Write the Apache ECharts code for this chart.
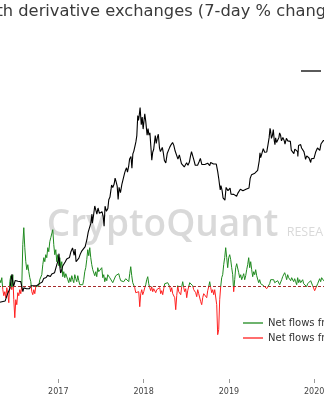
<!DOCTYPE html>
<html><head><meta charset="utf-8">
<script src="https://cdn.jsdelivr.net/npm/echarts@6/dist/echarts.min.js"></script>
<style>html,body{margin:0;padding:0;background:#fff;overflow:hidden;width:324px;height:400px;position:relative}
#c{position:absolute;left:-27px;top:0;width:427px;height:400px}</style>
</head><body><div id="c"></div>
<script>
// ---- data ----
const yearTicks = [2016, 2017, 2018, 2019, 2020, 2021];

const priceDates = [
'2016-04-20','2016-04-27','2016-05-04','2016-05-11','2016-05-18','2016-05-25','2016-05-29','2016-06-02','2016-06-08','2016-06-12','2016-06-16','2016-06-19','2016-06-22','2016-06-26','2016-06-30','2016-07-06','2016-07-12','2016-07-18','2016-07-24','2016-07-30','2016-08-02','2016-08-06','2016-08-12','2016-08-18','2016-08-24','2016-08-30','2016-09-06','2016-09-12','2016-09-18','2016-09-24','2016-09-30','2016-10-06','2016-10-12','2016-10-18','2016-10-24','2016-10-30','2016-11-04','2016-11-10','2016-11-16','2016-11-22','2016-11-28','2016-12-04','2016-12-10','2016-12-16','2016-12-22','2016-12-27',
'2017-01-01','2017-01-04','2017-01-07','2017-01-11','2017-01-15','2017-01-20','2017-01-26','2017-01-31','2017-02-06','2017-02-12','2017-02-18','2017-02-24','2017-03-03','2017-03-10','2017-03-14','2017-03-18','2017-03-24','2017-03-30','2017-04-05','2017-04-12','2017-04-18','2017-04-26','2017-05-03','2017-05-09','2017-05-13','2017-05-20','2017-05-25','2017-05-27','2017-06-01','2017-06-06','2017-06-11','2017-06-15','2017-06-20','2017-06-26','2017-07-01','2017-07-07','2017-07-12','2017-07-16','2017-07-20','2017-07-26','2017-08-01','2017-08-05','2017-08-10','2017-08-15','2017-08-17','2017-08-22','2017-08-28','2017-09-01','2017-09-05','2017-09-10','2017-09-14','2017-09-18','2017-09-24','2017-09-30','2017-10-06','2017-10-12','2017-10-16','2017-10-20','2017-10-24','2017-10-29','2017-11-02','2017-11-08','2017-11-12','2017-11-16','2017-11-20','2017-11-26','2017-11-29','2017-12-03','2017-12-07','2017-12-10','2017-12-13','2017-12-17','2017-12-22','2017-12-26','2017-12-30',
'2018-01-03','2018-01-06','2018-01-10','2018-01-16','2018-01-20','2018-01-24','2018-01-28','2018-02-01','2018-02-05','2018-02-09','2018-02-13','2018-02-20','2018-02-24','2018-03-01','2018-03-05','2018-03-10','2018-03-14','2018-03-18','2018-03-22','2018-03-26','2018-03-31','2018-04-06','2018-04-12','2018-04-17','2018-04-23','2018-04-29','2018-05-05','2018-05-10','2018-05-16','2018-05-22','2018-05-28','2018-06-03','2018-06-09','2018-06-12','2018-06-18','2018-06-24','2018-06-29','2018-07-04','2018-07-10','2018-07-16','2018-07-20','2018-07-25','2018-07-30','2018-08-04','2018-08-10','2018-08-14','2018-08-20','2018-08-26','2018-09-01','2018-09-05','2018-09-07','2018-09-14','2018-09-20','2018-09-26','2018-10-02','2018-10-08','2018-10-11','2018-10-15','2018-10-21','2018-10-27','2018-11-02','2018-11-08','2018-11-14','2018-11-19','2018-11-22','2018-11-25','2018-11-28','2018-12-03','2018-12-07','2018-12-12','2018-12-15','2018-12-20','2018-12-24','2018-12-28',
'2019-01-02','2019-01-06','2019-01-10','2019-01-16','2019-01-22','2019-01-28','2019-02-03','2019-02-08','2019-02-14','2019-02-19','2019-02-24','2019-03-02','2019-03-08','2019-03-15','2019-03-22','2019-03-28','2019-04-02','2019-04-08','2019-04-14','2019-04-22','2019-04-28','2019-05-04','2019-05-11','2019-05-14','2019-05-17','2019-05-22','2019-05-28','2019-06-03','2019-06-07','2019-06-12','2019-06-17','2019-06-22','2019-06-26','2019-06-28','2019-07-02','2019-07-06','2019-07-10','2019-07-14','2019-07-17','2019-07-20','2019-07-24','2019-07-30','2019-08-03','2019-08-06','2019-08-10','2019-08-14','2019-08-20','2019-08-26','2019-08-29','2019-09-04','2019-09-10','2019-09-16','2019-09-21','2019-09-25','2019-09-30','2019-10-06','2019-10-10','2019-10-15','2019-10-22','2019-10-23','2019-10-26','2019-10-30','2019-11-04','2019-11-08','2019-11-14','2019-11-18','2019-11-22','2019-11-25','2019-11-30','2019-12-05','2019-12-10','2019-12-14','2019-12-17','2019-12-20','2019-12-25','2019-12-31',
'2020-01-04','2020-01-07','2020-01-12','2020-01-15','2020-01-20','2020-01-25','2020-01-30','2020-02-04','2020-02-09','2020-02-13','2020-02-18'
];
const priceValues = [
440,450,447,452,454,445,525,537,580,680,760,765,595,630,675,670,665,670,660,655,545,585,590,575,580,575,610,606,610,603,610,612,635,638,655,700,705,715,745,738,730,765,775,785,865,935,
1000,1135,900,780,820,895,915,970,1025,995,1055,1180,1270,1100,1240,970,935,1040,1125,1200,1210,1300,1480,1720,1760,2040,2440,2050,2400,2860,2950,2440,2750,2480,2440,2560,2330,1930,2850,2580,2720,3230,3400,4000,4300,4090,4380,4900,4600,4200,3250,4100,3700,4350,4370,5430,5750,6000,5500,6150,7100,7450,5950,7850,8250,9300,9900,11200,16500,15000,16400,19300,13800,16000,12700,
15100,17100,14900,11300,12800,11300,11800,9100,6950,8100,8550,11200,9600,10800,11500,8800,8200,7900,8900,8100,6900,6600,7900,7900,8950,9400,9800,9300,8300,8000,7100,7700,7600,6500,6700,6100,5900,6600,6300,6700,7400,8200,8200,7000,6300,6200,6300,6700,7200,7400,6400,6500,6400,6450,6550,6650,6250,6650,6500,6450,6350,6450,5600,4800,4300,3900,4250,3850,3350,3450,3200,4100,4050,3850,
3950,4050,3600,3650,3580,3450,3450,3650,3600,3950,3850,3850,3900,3950,4000,4050,4880,5250,5150,5400,5200,5700,6900,8000,7300,7900,8700,8100,7800,8150,9300,10700,12900,12400,10600,11200,12600,10200,9400,10700,9800,9500,10800,11800,11300,10100,10800,10100,9500,10600,10100,10300,10000,8450,8300,7900,8600,8300,8200,7450,9250,9200,9400,8800,8650,8200,7600,7050,7550,7400,7250,7100,6650,7150,7250,7200,
7400,8100,8200,8800,8650,8400,9500,9200,10150,10300,10200
];

// net flows, 7-day % change, one reading every flowStepDays starting at flowStartDate
const flowStartDate = '2016-04-25';
const flowStepDays = 4.28;
const flowValues = [
7,4,9,-3,-9,-5,-11,-1,-7,-16,5,11,-3,12,-13,-31,-13,-18,-6,-9,-3,-7,1,42,59,39,25,17,22,15,9,5,-5,-8,-3,-7,0,2,-1,1,
7,5,12,22,29,25,32,29,39,35,45,49,47,57,42,32,37,25,32,21,29,19,25,10,15,9,13,12,7,4,9,5,11,7,4,12,8,5,11,6,
2,3,1,2,7,15,19,27,37,31,39,29,22,17,19,11,15,10,19,15,17,14,19,9,12,5,9,6,12,14,9,11,7,4,2,6,11,12,10,13,
9,6,4,7,5,4,8,6,9,5,13,20,11,4,2,-1,-6,-4,-8,-5,-20,-7,-3,-8,-5,-1,2,7,10,3,-1,-4,0,-5,-2,-4,-6,-3,-5,-2,
-1,-7,-4,-8,-2,3,5,2,4,5,0,-5,-1,-7,-5,-11,-23,-9,1,-5,-3,-8,0,5,-1,-5,-2,-11,-4,0,4,2,4,1,-3,-1,-6,-10,-3,-7,
-9,-15,-18,-11,-7,-5,-9,-11,-4,0,5,-1,-6,-3,-8,-3,-5,-18,-48,-43,-13,0,9,12,22,29,39,29,19,29,32,27,19,12,-5,7,19,23,25,14,
9,12,7,10,13,7,11,17,22,29,19,25,17,10,15,12,17,11,9,4,7,3,5,5,1,3,0,-2,-1,-2,3,7,5,9,7,4,2,4,6,4,
2,4,7,10,8,14,11,7,12,9,10,6,9,10,5,8,5,2,9,4,7,4,2,7,3,5,2,0,3,5,3,6,4,1,-1,-4,-6,-2,3,5,
8,5,9,7,6,6,5
];

const priceName = 'BTC price (USD, log scale)';
const inflowName = 'Net flows from spot to derivative exchanges';
const outflowName = 'Net flows from derivative to spot exchanges';
const titleText = 'th derivative exchanges (7-day % change)';

// ---- helpers ----
function toYear(s){
  const p = s.split('-').map(Number);
  const t = Date.UTC(p[0], p[1]-1, p[2]);
  const t0 = Date.UTC(p[0],0,1), t1 = Date.UTC(p[0]+1,0,1);
  return p[0] + (t - t0)/(t1 - t0);
}
const priceData = priceDates.map((d,i)=>[toYear(d), priceValues[i]]);
const flowStartYear = toYear(flowStartDate);
const flowData = flowValues.map((v,i)=>[flowStartYear + i*flowStepDays/365.25, v]);

const GREEN = '#1f8a1f', RED = '#ff1f1f';
const OX = 27; // chart canvas starts 27px left of the visible window
const font = '"DejaVu Sans", sans-serif';
const chart = echarts.init(document.getElementById('c'), null, {renderer:'canvas'});
const xBase = {
  type:'value', min: yearTicks[0], max: yearTicks[yearTicks.length-1], interval:1,
  splitLine:{show:false}
};
chart.setOption({
  animation:false,
  backgroundColor:'#fff',
  grid:[
    {left:0, right:0.5, top:22.6, bottom:21, containLabel:false, outerBoundsMode:'none'},
    {left:0, right:0.5, top:186.7, bottom:13.3, containLabel:false, outerBoundsMode:'none'}
  ],
  xAxis:[
    Object.assign({}, xBase, {gridIndex:0,
      axisLine:{show:false},
      axisTick:{show:true, length:4, lineStyle:{color:'#999', width:1}},
      axisLabel:{show:true, margin:9, fontSize:8, color:'#444', fontFamily:font, formatter:v=>String(v)}
    }),
    Object.assign({}, xBase, {gridIndex:1, show:false})
  ],
  yAxis:[
    {type:'log', logBase:10, min:100, max:100000, gridIndex:0, show:false, splitLine:{show:false}},
    {type:'value', min:-100, max:100, gridIndex:1, show:false, splitLine:{show:false}}
  ],
  visualMap:{
    type:'piecewise', show:false, seriesIndex:1, dimension:1,
    pieces:[{gte:-300, lt:0, color:RED},{gte:0, lte:300, color:GREEN}],
    outOfRange:{color:GREEN}
  },
  legend:[
    {orient:'vertical', left:243+OX, top:318, padding:0, icon:'rect', itemWidth:20, itemHeight:1.3, itemGap:5,
     textStyle:{fontFamily:font, fontSize:10, color:'#333'},
     data:[inflowName, outflowName]},
    {orient:'horizontal', left:301+OX, top:66, padding:0, icon:'rect', itemWidth:20, itemHeight:1.3,
     textStyle:{fontFamily:font, fontSize:10, color:'#333'},
     data:[priceName]}
  ],
  graphic:[
    {type:'text', x:-3.6+OX, y:12, z:10, style:{text:titleText, font:'16.3px "DejaVu Sans"', fill:'#3a3a3a', verticalAlign:'middle', textVerticalAlign:'middle'}},
    {type:'text', x:46.7+OX, y:225.5, z:0, style:{text:'CryptoQuant', font:'600 37px "Open Sans"', fill:'rgba(160,160,160,0.4)', verticalAlign:'middle', textVerticalAlign:'middle'}},
    {type:'text', x:286.7+OX, y:232.5, z:0, style:{text:'RESEARCH', font:'12.5px "Open Sans"', fill:'rgba(160,160,160,0.4)', verticalAlign:'middle', textVerticalAlign:'middle'}}
  ],
  series:[
    {name:priceName, type:'line', xAxisIndex:0, yAxisIndex:0, data:priceData, symbol:'none', z:4,
     lineStyle:{color:'#000', width:1.1}, itemStyle:{color:'#000'}},
    {name:'flows', type:'line', xAxisIndex:1, yAxisIndex:1, data:flowData, symbol:'none', z:3,
     lineStyle:{width:1},
     markLine:{silent:true, symbol:'none', label:{show:false},
       lineStyle:{color:'#a52a2a', type:[3,2], width:1}, data:[{yAxis:0}]}},
    {name:inflowName, type:'line', xAxisIndex:1, yAxisIndex:1, data:[], symbol:'none',
     lineStyle:{color:GREEN, width:1}, itemStyle:{color:GREEN}},
    {name:outflowName, type:'line', xAxisIndex:1, yAxisIndex:1, data:[], symbol:'none',
     lineStyle:{color:RED, width:1}, itemStyle:{color:RED}}
  ]
});
</script></body></html>
